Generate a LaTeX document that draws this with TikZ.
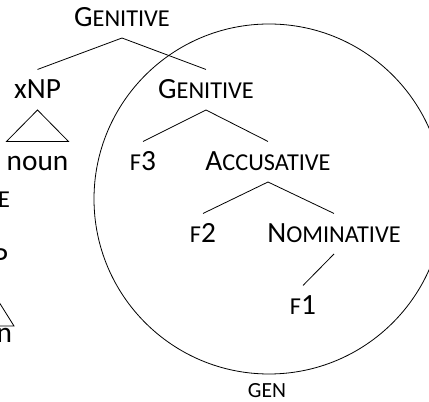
\documentclass[tikz,border=0pt]{standalone}
\usepackage{fontspec}
\setmainfont{Carlito}
\usepackage{tikz}
\newcommand{\lowcaps}[1]{{\fontsize{18.2}{22}\selectfont #1}}

\begin{document}
\begin{tikzpicture}[x=0.75pt,y=0.75pt,yscale=-1,xscale=1,
  lbl/.style={inner sep=0pt,outer xsep=0pt,outer ysep=8.25pt,text height=13.9pt,text depth=0pt,font=\fontsize{22}{26}\selectfont},
  edge/.style={line width=0.6pt}]
%set diagram frame: 429 x 402
\useasboundingbox (0,0) rectangle (429,402);
\clip (0,0) rectangle (429,402);

%Shape: Circle
\draw [edge] (269,199) circle [radius=175];

% Text Node
\draw (122,27) node (gentop) [lbl,anchor=base] {G\lowcaps{ENITIVE}};
% Text Node
\draw (37.5,99) node (xnp) [lbl,anchor=base] {xNP};
% Text Node
\draw (206,99) node (gen) [lbl,anchor=base] {G\lowcaps{ENITIVE}};
% Text Node
\draw (37.5,171) node (noun) [lbl,anchor=base] {noun};
% Text Node
\draw (143,171) node (fthree) [lbl,anchor=base] {\lowcaps{F}3};
% Text Node
\draw (268,171) node (acc) [lbl,anchor=base] {A\lowcaps{CCUSATIVE}};
% Text Node
\draw (203,243) node (ftwo) [lbl,anchor=base] {\lowcaps{F}2};
% Text Node
\draw (334,243) node (nom) [lbl,anchor=base] {N\lowcaps{OMINATIVE}};
% Text Node
\draw (303,315) node (fone) [lbl,anchor=base] {\lowcaps{F}1};
% Text Node
\draw (267,398) node (genlbl) [lbl,anchor=base,font=\fontsize{16.2}{20}\selectfont] {GEN};

% Text Node (cut at the left border)
\draw (10,208) node (cutcase) [lbl,anchor=base east] {\lowcaps{E}};
% Text Node (cut at the left border)
\draw (8,268) node (cutxnp) [lbl,anchor=base east] {xNP};
% Text Node (cut at the left border)
\draw (12,343) node (cutnoun) [lbl,anchor=base east] {noun};
\coordinate (cutbl) at (-45,326);
\coordinate (cutbr) at (14,326);

%Straight Lines
\draw [edge] (gentop.south) -- (xnp.north);
\draw [edge] (gentop.south) -- (gen.north);
\draw [edge] (gen.south) -- (fthree.north);
\draw [edge] (gen.south) -- (acc.north);
\draw [edge] (acc.south) -- (ftwo.north);
\draw [edge] (acc.south) -- (nom.north);
\draw [edge] (nom.south) -- (fone.north);
%Shape: Triangle
\draw [edge] (xnp.south) -- ([xshift=-23.25pt]noun.north) -- ([xshift=23.25pt]noun.north) -- cycle;
\draw [edge] (cutxnp.south) -- (cutbr) -- (cutbl) -- cycle;

\end{tikzpicture}
\end{document}
